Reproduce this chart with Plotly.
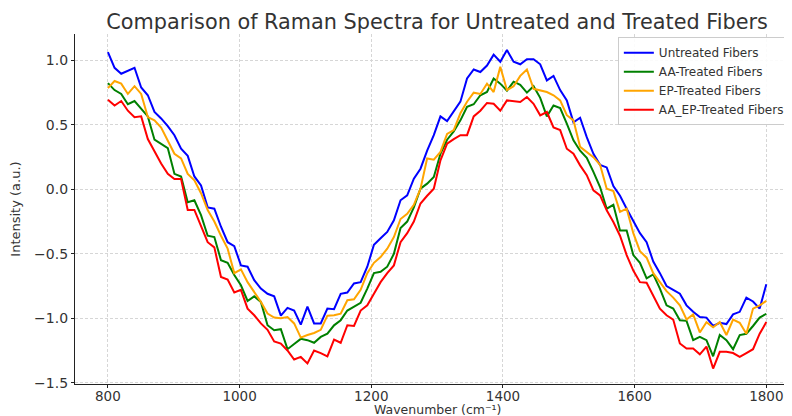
import plotly.graph_objects as go

wavenumber = [800.00, 810.10, 820.20, 830.30, 840.40, 850.51, 860.61, 870.71, 880.81, 890.91,
              901.01, 911.11, 921.21, 931.31, 941.41, 951.52, 961.62, 971.72, 981.82, 991.92,
              1002.02, 1012.12, 1022.22, 1032.32, 1042.42, 1052.53, 1062.63, 1072.73, 1082.83, 1092.93,
              1103.03, 1113.13, 1123.23, 1133.33, 1143.43, 1153.54, 1163.64, 1173.74, 1183.84, 1193.94,
              1204.04, 1214.14, 1224.24, 1234.34, 1244.44, 1254.55, 1264.65, 1274.75, 1284.85, 1294.95,
              1305.05, 1315.15, 1325.25, 1335.35, 1345.45, 1355.56, 1365.66, 1375.76, 1385.86, 1395.96,
              1406.06, 1416.16, 1426.26, 1436.36, 1446.46, 1456.57, 1466.67, 1476.77, 1486.87, 1496.97,
              1507.07, 1517.17, 1527.27, 1537.37, 1547.47, 1557.58, 1567.68, 1577.78, 1587.88, 1597.98,
              1608.08, 1618.18, 1628.28, 1638.38, 1648.48, 1658.59, 1668.69, 1678.79, 1688.89, 1698.99,
              1709.09, 1719.19, 1729.29, 1739.39, 1749.49, 1759.60, 1769.70, 1779.80, 1789.90, 1800.00]

untreated = [1.065, 0.943, 0.897, 0.92, 0.943, 0.79, 0.73, 0.60, 0.55, 0.49,
             0.42, 0.315, 0.26, 0.10, 0.03, -0.14, -0.15, -0.29, -0.41, -0.44,
             -0.59, -0.60, -0.705, -0.77, -0.81, -0.83, -0.98, -0.92, -0.94, -1.05,
             -0.91, -1.04, -1.04, -0.925, -0.93, -0.81, -0.80, -0.73, -0.72, -0.60,
             -0.43, -0.38, -0.33, -0.24, -0.085, -0.047, 0.083, 0.16, 0.30, 0.42,
             0.566, 0.53, 0.61, 0.68, 0.86, 0.93, 0.91, 0.96, 1.045, 0.99,
             1.08, 0.99, 0.97, 1.01, 1.01, 0.97, 0.845, 0.88, 0.77, 0.69,
             0.52, 0.555, 0.405, 0.276, 0.19, 0.17, 0.026, -0.05, -0.15, -0.24,
             -0.34, -0.41, -0.56, -0.65, -0.75, -0.78, -0.81, -0.90, -0.95, -0.99,
             -0.995, -1.06, -1.035, -1.045, -0.97, -0.95, -0.84, -0.87, -0.925, -0.736]

aa_treated = [0.824, 0.77, 0.74, 0.66, 0.685, 0.625, 0.566, 0.385, 0.354, 0.32,
              0.12, 0.10, -0.10, -0.085, -0.20, -0.36, -0.37, -0.55, -0.57, -0.665,
              -0.744, -0.866, -0.83, -0.873, -1.054, -1.093, -1.085, -1.24, -1.20, -1.16,
              -1.17, -1.19, -1.145, -1.12, -1.055, -1.015, -0.94, -0.91, -0.88, -0.77,
              -0.65, -0.64, -0.60, -0.50, -0.30, -0.25, -0.14, 0.005, 0.044, 0.096,
              0.276, 0.385, 0.45, 0.535, 0.64, 0.66, 0.73, 0.755, 0.86, 0.82,
              0.765, 0.835, 0.81, 0.75, 0.80, 0.71, 0.566, 0.65, 0.63, 0.51,
              0.38, 0.30, 0.245, 0.135, 0.018, -0.15, -0.12, -0.32, -0.32, -0.51,
              -0.57, -0.69, -0.66, -0.77, -0.90, -0.925, -1.015, -1.02, -1.17, -1.145,
              -1.17, -1.295, -1.13, -1.17, -1.24, -1.13, -1.12, -1.06, -0.995, -0.965]

ep_treated = [0.785, 0.84, 0.82, 0.74, 0.80, 0.74, 0.56, 0.535, 0.48, 0.38,
              0.276, 0.24, 0.12, 0.07, -0.03, -0.16, -0.25, -0.36, -0.46, -0.65,
              -0.62, -0.72, -0.80, -0.873, -0.964, -0.995, -1.00, -0.99, -1.04, -1.15,
              -1.13, -1.114, -1.09, -0.98, -0.977, -0.964, -0.86, -0.853, -0.78, -0.65,
              -0.57, -0.525, -0.46, -0.37, -0.23, -0.19, -0.12, 0.005, 0.24, 0.23,
              0.29, 0.43, 0.46, 0.59, 0.68, 0.75, 0.74, 0.82, 0.755, 0.95,
              0.77, 0.80, 0.88, 0.93, 0.78, 0.767, 0.755, 0.73, 0.69, 0.575,
              0.535, 0.33, 0.29, 0.25, 0.19, 0.005, -0.013, -0.175, -0.15, -0.34,
              -0.48, -0.53, -0.65, -0.72, -0.79, -0.84, -0.90, -1.01, -0.97, -1.11,
              -1.03, -1.07, -1.03, -1.13, -1.01, -1.035, -1.12, -0.925, -0.90, -0.865]

aa_ep_treated = [0.695, 0.65, 0.685, 0.61, 0.56, 0.566, 0.39, 0.29, 0.20, 0.12,
                 0.08, 0.08, -0.16, -0.16, -0.28, -0.41, -0.45, -0.68, -0.70, -0.80,
                 -0.78, -0.925, -0.977, -1.04, -1.09, -1.18, -1.196, -1.25, -1.32, -1.30,
                 -1.35, -1.25, -1.27, -1.295, -1.165, -1.19, -1.054, -1.06, -0.94, -0.90,
                 -0.81, -0.72, -0.65, -0.59, -0.41, -0.34, -0.25, -0.11, -0.05, 0.005,
                 0.225, 0.354, 0.39, 0.42, 0.42, 0.566, 0.61, 0.67, 0.664, 0.61,
                 0.69, 0.685, 0.677, 0.716, 0.664, 0.574, 0.60, 0.48, 0.46, 0.315,
                 0.276, 0.186, 0.11, -0.008, -0.047, -0.163, -0.253, -0.36, -0.51, -0.63,
                 -0.72, -0.725, -0.82, -0.925, -0.977, -1.01, -1.196, -1.235, -1.235, -1.28,
                 -1.22, -1.39, -1.26, -1.26, -1.27, -1.30, -1.27, -1.24, -1.12, -1.03]

series_names = ["Untreated Fibers", "AA-Treated Fibers", "EP-Treated Fibers", "AA_EP-Treated Fibers"]
series_values = [untreated, aa_treated, ep_treated, aa_ep_treated]
series_colors = ["#0000ff", "#008000", "#ffa500", "#ff0000"]

x_ticks = [800, 1000, 1200, 1400, 1600, 1800]
y_ticks = [-1.5, -1.0, -0.5, 0.0, 0.5, 1.0]

FONT = "DejaVu Sans"
TXT = "#333333"
GRID = "#d6d6d6"

fig = go.Figure()
for name, vals, col in zip(series_names, series_values, series_colors):
    fig.add_trace(go.Scatter(x=wavenumber, y=vals, mode="lines", name=name,
                             line=dict(color=col, width=2)))

# The page body adds an 8px offset, so the figure is sized 784x408.
fig.update_layout(
    width=784, height=408,
    margin=dict(l=67, r=0, t=26, b=32, autoexpand=False),
    paper_bgcolor="white", plot_bgcolor="white",
    font=dict(family=FONT, color=TXT, size=14),
    title=dict(text="Comparison of Raman Spectra for Untreated and Treated Fibers",
               x=0.505, xref="paper", xanchor="center",
               y=0.967, yref="container", yanchor="middle",
               font=dict(family=FONT, size=20.8, color=TXT)),
    legend=dict(x=0.997, y=0.991, xanchor="right", yanchor="top",
                bgcolor="rgba(255,255,255,0.9)", bordercolor="#cccccc", borderwidth=1,
                font=dict(family=FONT, size=12, color=TXT),
                itemwidth=30, tracegroupgap=0),
    showlegend=True,
    annotations=[dict(text="Wavenumber (cm⁻¹)", xref="x", yref="paper",
                      x=1300, y=0, yshift=-25, xanchor="center", yanchor="middle",
                      showarrow=False, font=dict(family=FONT, size=12.5, color=TXT))],
)

fig.update_xaxes(
    range=[750, 1839], tickvals=x_ticks, ticktext=[str(v) for v in x_ticks],
    showgrid=True, gridcolor=GRID, griddash="3px,2px", gridwidth=1,
    zeroline=False, showline=True, linecolor="#222222", linewidth=1.3,
    ticks="outside", ticklen=3, tickcolor="#222222", ticklabelstandoff=-3,
    tickfont=dict(family=FONT, size=13.5, color=TXT), automargin=False,
)
fig.update_yaxes(
    range=[-1.51, 1.205], tickvals=y_ticks, tickformat=".1f",
    showgrid=True, gridcolor=GRID, griddash="3px,2px", gridwidth=1,
    zeroline=False, showline=True, linecolor="#222222", linewidth=1.3,
    ticks="outside", ticklen=3, tickcolor="#222222",
    tickfont=dict(family=FONT, size=14, color=TXT), automargin=False,
    title=dict(text="Intensity (a.u.)", font=dict(family=FONT, size=13, color=TXT), standoff=10),
)

fig.write_html("out.html")
